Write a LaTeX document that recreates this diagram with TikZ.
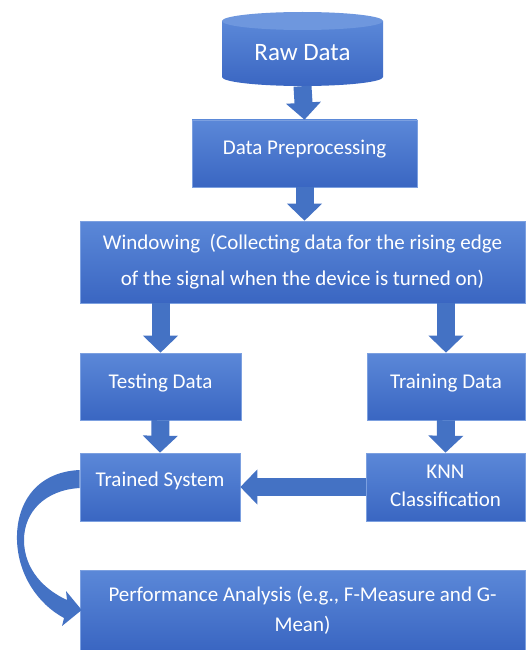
\documentclass[tikz,border=0pt]{standalone}
\usepackage{fontspec}
\setmainfont{Carlito}
\usetikzlibrary{arrows.meta,calc}
\definecolor{boxtop}{HTML}{5B88D8}
\definecolor{boxbot}{HTML}{3A66C2}
\definecolor{arrblue}{HTML}{4472C4}
\definecolor{cyltop}{HTML}{6E97DE}
\tikzset{
  box/.style={top color=boxtop, bottom color=boxbot, draw=boxtop!80!white, line width=0.6pt,
    text=white, align=center, inner sep=0pt, font=\fontsize{21}{25}\selectfont},
  blockarrow/.style={draw=arrblue, line width=18pt, -{Triangle[width=34pt,length=17pt]}},
}
\begin{document}
\begin{tikzpicture}[x=1pt,y=-1pt]
\useasboundingbox (0,0) rectangle (525,650);
\fill[white] (0,0) rectangle (525,650);
% cylinder
\shade[top color=boxtop, bottom color=boxbot] (222,21) -- (222,77)
  arc[start angle=180,end angle=360,x radius=80.5pt,y radius=9pt] -- (383,21) -- cycle;
\fill[cyltop] (302.5,21) ellipse [x radius=80.5pt, y radius=9pt];
\node[text=white, inner sep=0pt, minimum width=161pt, minimum height=66pt,
  font=\fontsize{25}{30}\selectfont] (raw) at (302.5,53) {Raw Data};
% boxes
\node[box, minimum width=225pt, minimum height=67pt] (prep) at (304.5,153.5) {\raisebox{12pt}{Data Preprocessing}};
\node[box, minimum width=445pt, minimum height=82pt, font=\fontsize{21}{36}\selectfont] (win) at (302.5,262)
  {Windowing\ \ (Collecting data for the rising edge\\ of the signal when the device is turned on)};
\node[box, minimum width=161pt, minimum height=67pt] (test) at (160.5,386.5) {\raisebox{10pt}{Testing Data}};
\node[box, minimum width=158pt, minimum height=67pt] (train) at (446,386.5) {\raisebox{10pt}{Training Data}};
\node[box, minimum width=160pt, minimum height=68pt] (ts) at (160,487) {\raisebox{16pt}{Trained System}};
\node[box, minimum width=159pt, minimum height=68pt, font=\fontsize{21}{28}\selectfont] (knn) at (445.5,487) {\raisebox{-4pt}{\begin{tabular}{@{}c@{}}KNN\\Classification\end{tabular}}};
\node[box, minimum width=445pt, minimum height=80pt, font=\fontsize{21}{30}\selectfont] (perf) at (302.5,610)
  {\raisebox{3pt}{\begin{tabular}{@{}c@{}}Performance Analysis (e.g., F-Measure and G-\\Mean)\end{tabular}}};
% arrows
\draw[blockarrow] (raw.south) -- (prep.north);
\draw[blockarrow] (prep.south) -- (prep.south |- win.north);
\draw[blockarrow] (win.south -| test.north) -- (test.north);
\draw[blockarrow] (win.south -| train.north) -- (train.north);
\draw[blockarrow] (test.south) -- (ts.north);
\draw[blockarrow] (train.south) -- (knn.north);
\draw[blockarrow] (knn.west) -- (ts.east);
% curved arrow
\coordinate (cs) at (ts.west);
\coordinate (ce) at (perf.west);
\fill[arrblue] ($(cs)+(0,-17)$) .. controls (35,472) and (16,505) .. (17,540)
  .. controls (18,575) and (38,604) .. (64,618)
  -- (62,626) -- ($(ce)+(2,0)$) -- (66,591) -- (67,600)
  .. controls (45,590) and (24,570) .. (24,540)
  .. controls (24,512) and (45,490) .. ($(cs)+(0,1)$) -- cycle;
\end{tikzpicture}
\end{document}
